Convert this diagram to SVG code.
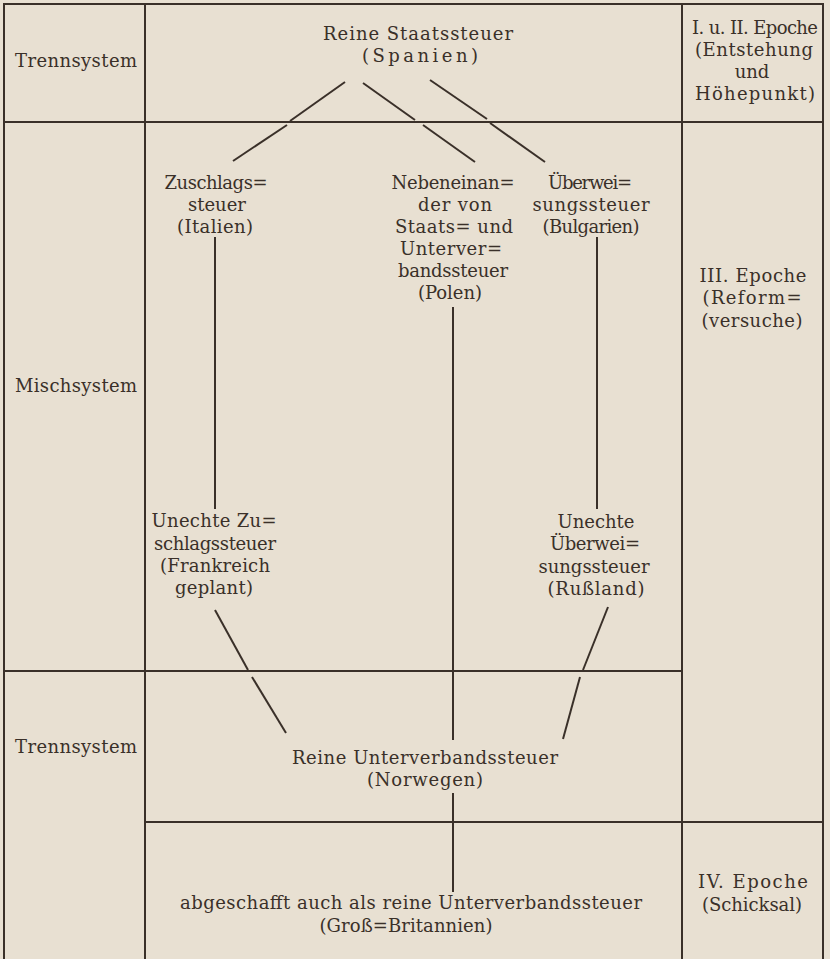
<svg xmlns="http://www.w3.org/2000/svg" width="830" height="959" viewBox="0 0 830 959">
<style>
  text { font-family: "DejaVu Serif", "Liberation Serif", serif; font-size: 18px; fill: #3a3029; text-anchor: middle; }
  .grid line { stroke: #3a3029; stroke-width: 2; stroke-linecap: square; }
  .conn line { stroke: #3a3029; stroke-width: 2; stroke-linecap: butt; }
</style>
<rect x="0" y="0" width="830" height="959" fill="#e8e0d2"/>

<g id="table" class="grid">
  <line x1="4" y1="4" x2="823" y2="4"/>
  <line x1="4" y1="4" x2="4" y2="959"/>
  <line x1="145" y1="4" x2="145" y2="959"/>
  <line x1="682" y1="4" x2="682" y2="959"/>
  <line x1="823" y1="4" x2="823" y2="959"/>
  <line x1="4" y1="122" x2="823" y2="122"/>
  <line x1="4" y1="671" x2="682" y2="671"/>
  <line x1="145" y1="822" x2="823" y2="822"/>
</g>

<g id="row-labels">
  <g id="label-trenn1"><text x="76" y="67" textLength="122" lengthAdjust="spacing">Trennsystem</text></g>
  <g id="label-misch"><text x="76" y="392" textLength="122" lengthAdjust="spacing">Mischsystem</text></g>
  <g id="label-trenn2"><text x="76" y="753" textLength="122" lengthAdjust="spacing">Trennsystem</text></g>
</g>

<g id="epochs">
  <g id="epoch-1-2">
    <text x="755" y="34" textLength="126" lengthAdjust="spacing">I. u. II. Epoche</text>
    <text x="754" y="56" textLength="118" lengthAdjust="spacing">(Entstehung</text>
    <text x="752" y="78">und</text>
    <text x="755" y="100" textLength="120" lengthAdjust="spacing">Höhepunkt)</text>
  </g>
  <g id="epoch-3">
    <text x="753" y="282" textLength="107" lengthAdjust="spacing">III. Epoche</text>
    <text x="752" y="304" textLength="99" lengthAdjust="spacing">(Reform=</text>
    <text x="752" y="327" textLength="101" lengthAdjust="spacing">(versuche)</text>
  </g>
  <g id="epoch-4">
    <text x="753" y="888" textLength="110" lengthAdjust="spacing">IV. Epoche</text>
    <text x="752" y="911" textLength="100" lengthAdjust="spacing">(Schicksal)</text>
  </g>
</g>

<g id="node-spanien">
  <text x="418" y="40" textLength="190" lengthAdjust="spacing">Reine Staatssteuer</text>
  <text x="420" y="62" textLength="116" lengthAdjust="spacing">(Spanien)</text>
</g>

<g id="node-italien">
  <text x="216" y="189" textLength="103" lengthAdjust="spacing">Zuschlags=</text>
  <text x="217" y="211">steuer</text>
  <text x="215" y="233" textLength="76" lengthAdjust="spacing">(Italien)</text>
</g>

<g id="node-polen">
  <text x="453" y="189" textLength="123" lengthAdjust="spacing">Nebeneinan=</text>
  <text x="455" y="211" textLength="74" lengthAdjust="spacing">der von</text>
  <text x="454" y="233" textLength="118" lengthAdjust="spacing">Staats= und</text>
  <text x="451" y="255" textLength="102" lengthAdjust="spacing">Unterver=</text>
  <text x="453" y="277" textLength="110" lengthAdjust="spacing">bandssteuer</text>
  <text x="450" y="299" textLength="64" lengthAdjust="spacing">(Polen)</text>
</g>

<g id="node-bulgarien">
  <text x="590" y="189" textLength="84" lengthAdjust="spacing">Überwei=</text>
  <text x="591" y="211" textLength="117" lengthAdjust="spacing">sungssteuer</text>
  <text x="591" y="233" textLength="97" lengthAdjust="spacing">(Bulgarien)</text>
</g>

<g id="node-frankreich">
  <text x="214" y="527" textLength="125" lengthAdjust="spacing">Unechte Zu=</text>
  <text x="215" y="550" textLength="122" lengthAdjust="spacing">schlagssteuer</text>
  <text x="215" y="572" textLength="110" lengthAdjust="spacing">(Frankreich</text>
  <text x="214" y="594" textLength="78" lengthAdjust="spacing">geplant)</text>
</g>

<g id="node-russland">
  <text x="596" y="528" textLength="77" lengthAdjust="spacing">Unechte</text>
  <text x="595" y="550" textLength="90" lengthAdjust="spacing">Überwei=</text>
  <text x="594" y="573" textLength="111" lengthAdjust="spacing">sungssteuer</text>
  <text x="596" y="595" textLength="97" lengthAdjust="spacing">(Rußland)</text>
</g>

<g id="node-norwegen">
  <text x="425" y="764" textLength="266" lengthAdjust="spacing">Reine Unterverbandssteuer</text>
  <text x="425" y="786" textLength="116" lengthAdjust="spacing">(Norwegen)</text>
</g>

<g id="node-britannien">
  <text x="411" y="909" textLength="462" lengthAdjust="spacing">abgeschafft auch als reine Unterverbandssteuer</text>
  <text x="406" y="932" textLength="173" lengthAdjust="spacing">(Groß=Britannien)</text>
</g>

<g id="connectors" class="conn">
  <line x1="345" y1="82" x2="290" y2="121"/>
  <line x1="287" y1="125" x2="233" y2="161"/>
  <line x1="363" y1="83" x2="415" y2="120"/>
  <line x1="423" y1="125" x2="475" y2="162"/>
  <line x1="430" y1="80" x2="487" y2="119"/>
  <line x1="490" y1="123" x2="545" y2="162"/>
  <line x1="215" y1="237" x2="215" y2="509"/>
  <line x1="453" y1="307" x2="453" y2="740"/>
  <line x1="597" y1="237" x2="597" y2="509"/>
  <line x1="215" y1="610" x2="248" y2="670"/>
  <line x1="252" y1="677" x2="286" y2="733"/>
  <line x1="608" y1="607" x2="583" y2="670"/>
  <line x1="580" y1="677" x2="563" y2="739"/>
  <line x1="453" y1="793" x2="453" y2="892"/>
</g>
</svg>
